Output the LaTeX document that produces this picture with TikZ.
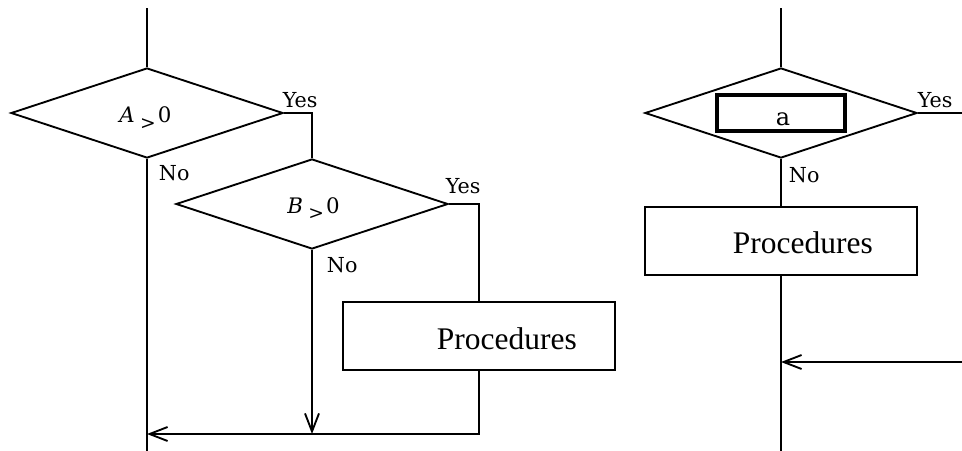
\documentclass[tikz,border=0pt]{standalone}
\usepackage{fontspec}
\setmainfont{DejaVu Serif}
\newfontfamily\procfont{Liberation Serif}
\usetikzlibrary{shapes.geometric,arrows.meta,calc}
% condition text: italic variable, lowered relation sign, value
\newcommand{\condtext}[1]{{\itshape #1}\hspace{4pt}\raisebox{-5pt}{\fontsize{14}{16}\selectfont >}\hspace{1.5pt}0}
\begin{document}
\begin{tikzpicture}[x=0.75pt,y=-0.75pt,
  line width=1.4pt,
  decision/.style={diamond, draw, inner sep=0pt, shape aspect=3,
    minimum width=204pt, minimum height=67.5pt},
  procbox/.style={draw, inner sep=0pt, minimum width=204pt, minimum height=50.5pt},
  proctext/.style={font=\procfont\fontsize{23.6}{28}\selectfont, inner sep=0pt, anchor=base west},
  answer/.style={font=\fontsize{15.5}{18}\selectfont, inner sep=0pt, anchor=base west},
  condlabel/.style={font=\fontsize{16}{20}\selectfont, inner sep=0pt, anchor=base west},
  keybox/.style={draw, line width=3pt, inner sep=0pt, minimum width=96pt, minimum height=27.5pt},
  arr/.style={-{Straight Barb[length=13.5pt,width=10.5pt]}},
]
\useasboundingbox (0,0) rectangle (962,450);

% ---------- left flow: nested decisions ----------
\coordinate (topL) at (147,8);
\node[decision] (A) at (147,113) {};
\node[decision] (B) at (312,204) {};
\node[condlabel] (cA) at ($(A.center)+(-28.5,9.5)$) {\condtext{A}};
\node[condlabel] (cB) at ($(B.center)+(-25.5,9)$) {\condtext{B}};
\node[procbox] (P1) at (479,336) {};
\node[proctext] (t1) at ($(P1.center)+(-43,13.5)$) {Procedures};
\coordinate (join) at (147,434);
\coordinate (endL) at (147,452);

\node[answer] (yA) at ($(A.east)+(-2,-6)$) {Yes};
\node[answer] (nA) at ($(A.south)+(11,22)$) {No};
\node[answer] (yB) at ($(B.east)+(-4,-11)$) {Yes};
\node[answer] (nB) at ($(B.south)+(14,23)$) {No};

\draw (topL) -- (A.north);
\draw (A.east) -| (B.north);
\draw (B.east) -| (P1.north);
\draw[arr] (P1.south) |- (join);
\draw[arr] (B.south) -- (B.south |- join);
\draw (A.south) -- (endL);

% ---------- right flow: single decision ----------
\coordinate (topR) at (781,8);
\node[decision] (R) at (781,113) {};
\node[keybox] (K) at (781,113) {};
\node[font=\fontsize{18}{21}\selectfont, inner sep=0pt, anchor=base] (ka) at ($(K.center)+(2,12)$) {a};
\node[procbox, minimum height=51pt] (P2) at (781,241) {};
\node[proctext] (t2) at ($(P2.center)+(-49,12)$) {Procedures};
\coordinate (outR) at (964,113);
\coordinate (inR) at (964,362);
\coordinate (endR) at (781,452);

\node[answer] (yR) at ($(R.east)+(-1,-6)$) {Yes};
\node[answer] (nR) at ($(R.south)+(7,24)$) {No};

\draw (topR) -- (R.north);
\draw (R.east) -- (outR);
\draw (R.south) -- (P2.north);
\draw (P2.south) -- (endR);
\draw[arr] (inR) -- (P2.south |- inR);
\end{tikzpicture}
\end{document}
